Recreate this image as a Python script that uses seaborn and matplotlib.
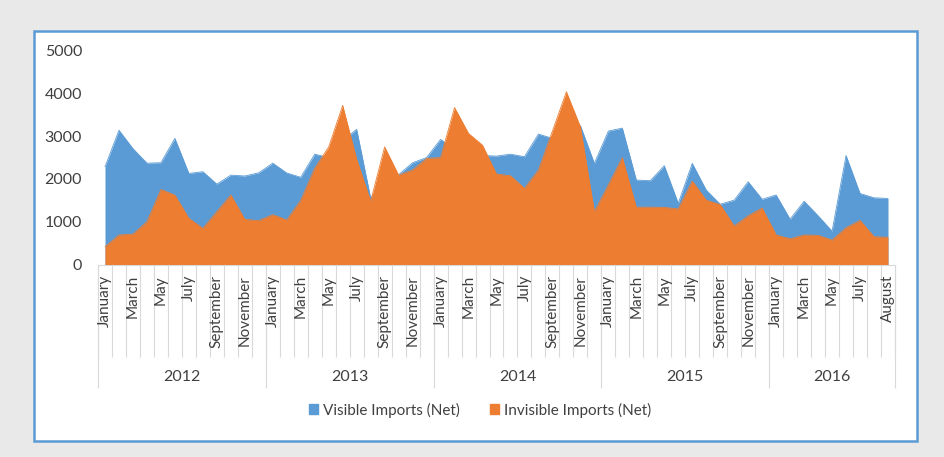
import numpy as np
import pandas as pd
import matplotlib
matplotlib.use("Agg")
import matplotlib.pyplot as plt
import seaborn as sns
from matplotlib.patches import Rectangle, Patch

# Data
years = ["2012", "2013", "2014", "2015", "2016"]
months_per_year = [12, 12, 12, 12, 9]
month_ticks = ["January", "March", "May", "July", "September", "November"]
month_ticks_last = ["January", "March", "May", "July", "August"]

visible = [2285, 3140, 2710, 2370, 2380, 2950, 2130, 2170, 1880, 2090, 2070, 2145,
           2370, 2140, 2040, 2580, 2500, 2900, 3160, 1550, 2000, 2100, 2380, 2500,
           2925, 2700, 2600, 2550, 2535, 2580, 2520, 3050, 2950, 3000, 3250, 2365,
           3120, 3190, 1975, 1960, 2310, 1430, 2365, 1740, 1410, 1505, 1935, 1525,
           1625, 1060, 1480, 1140, 780, 2550, 1660, 1560, 1545]
invisible = [415, 690, 710, 1000, 1755, 1620, 1080, 845, 1235, 1625, 1055, 1025,
             1165, 1040, 1500, 2250, 2750, 3720, 2460, 1480, 2750, 2090, 2210, 2480,
             2500, 3670, 3065, 2790, 2115, 2075, 1780, 2210, 3120, 4040, 3220, 1235,
             1860, 2500, 1340, 1340, 1335, 1300, 1950, 1505, 1400, 900, 1140, 1320,
             690, 600, 690, 680, 570, 860, 1030, 650, 635]

df = pd.DataFrame({"idx": np.arange(len(visible)),
                   "Visible Imports (Net)": visible,
                   "Invisible Imports (Net)": invisible})

BLUE = "#5b9bd5"
ORANGE = "#ed7d31"
TEXT = "#404040"
GRID = "#d9d9d9"

sns.set_style("white")
plt.rcParams["font.family"] = ["Lato", "DejaVu Sans"]

W, H = 944, 457
fig = plt.figure(figsize=(W / 100, H / 100), dpi=100, facecolor="#e9e9e9")
panel = Rectangle((34 / W, 1 - 441 / H), (917 - 34) / W, (441 - 31) / H,
                  transform=fig.transFigure, fc="white", ec=BLUE, lw=1.8, zorder=-10)
fig.patches.append(panel)

ax_l, ax_r, ax_t, ax_b = 98, 895, 50.7, 264.5
ax = fig.add_axes([ax_l / W, 1 - ax_b / H, (ax_r - ax_l) / W, (ax_b - ax_t) / H])
ax.set_facecolor("none")
ax.set_zorder(1)

# overlapping areas: visible first, invisible drawn on top
for z, (col, c) in enumerate([("Visible Imports (Net)", BLUE),
                              ("Invisible Imports (Net)", ORANGE)]):
    ax.fill_between(df["idx"], df[col], 0, color=c, lw=0, zorder=2 + z)
    sns.lineplot(data=df, x="idx", y=col, color=c, lw=0.6, ax=ax, legend=False,
                 zorder=2.5 + z)

n = len(df)
ax.set_xlim(-0.5, n - 0.5)
ax.set_ylim(0, 5000)
ax.set_yticks(range(0, 5001, 1000))
ax.tick_params(axis="y", length=0, pad=11.5, labelsize=11.5, labelcolor=TEXT)
ax.set_xticks([])
ax.set_xlabel("")
ax.set_ylabel("")
for s in ["left", "right", "top"]:
    ax.spines[s].set_visible(False)
ax.spines["bottom"].set_color(GRID)
ax.spines["bottom"].set_linewidth(0.8)

# multi-level category axis
ah = ax_b - ax_t
tr = ax.get_xaxis_transform()
month_line = -(356.7 - ax_b) / ah
year_line = -(388 - ax_b) / ah
ax.vlines(np.arange(n + 1) - 0.5, month_line, 0, transform=tr, colors=GRID,
          lw=0.8, clip_on=False)
start = 0
for yr, m in zip(years, months_per_year):
    ax.vlines([start - 0.5], year_line, 0, transform=tr, colors=GRID, lw=0.8, clip_on=False)
    labels = month_ticks if m == 12 else month_ticks_last
    for j, lab in enumerate(labels):
        pos = start + 2 * j if j < len(labels) - 1 or m == 12 else start + m - 1
        ax.text(pos, -(275 - ax_b) / ah, lab, transform=tr, rotation=90,
                ha="center", va="top", fontsize=11, color=TEXT)
    ax.text(start + (m - 1) / 2, -(377 - ax_b) / ah, yr, transform=tr,
            ha="center", va="center", fontsize=11.5, color=TEXT)
    start += m
ax.vlines([start - 0.5], year_line, 0, transform=tr, colors=GRID, lw=0.8, clip_on=False)

handles = [Patch(color=BLUE, label="Visible Imports (Net)"),
           Patch(color=ORANGE, label="Invisible Imports (Net)")]
fig.legend(handles=handles, loc="center", bbox_to_anchor=(480 / W, 1 - 410 / H),
           ncol=2, frameon=False, fontsize=11, labelcolor=TEXT,
           handlelength=0.6, handleheight=0.6, handletextpad=0.3, columnspacing=2.0)

fig.savefig("out.png", dpi=100, facecolor=fig.get_facecolor())
